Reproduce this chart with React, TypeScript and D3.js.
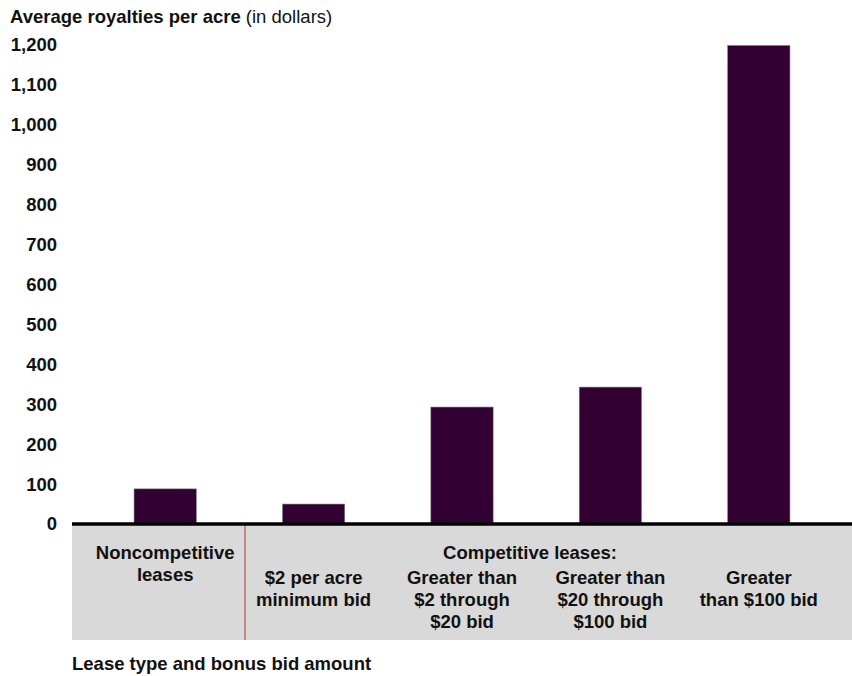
import React from "react";
import * as d3 from "d3";

const categories = ["noncomp", "min2", "gt2to20", "gt20to100", "gt100"];
const values = [88, 50, 293, 343, 1199];
const yTicks = [0, 100, 200, 300, 400, 500, 600, 700, 800, 900, 1000, 1100, 1200];
const categoryLabels: string[][] = [
  ["Noncompetitive", "leases"],
  ["$2 per acre", "minimum bid"],
  ["Greater than", "$2 through", "$20 bid"],
  ["Greater than", "$20 through", "$100 bid"],
  ["Greater", "than $100 bid"],
];
const groupLabel = "Competitive leases:";
const title = "Average royalties per acre";
const titleUnit = " (in dollars)";
const xTitle = "Lease type and bonus bid amount";

const W = 852;
const H = 676;
const FONT = "'Liberation Sans', Arial, sans-serif";
const FS = 18.5;

export default function App() {
  const y = d3.scaleLinear().domain([0, 1200]).range([524, 45]);
  const x = d3.scaleBand<string>().domain(categories).range([91, 833]).paddingInner(0.58).paddingOuter(0.29);
  const baseY = y(0);
  const boxTop = baseY + 1;
  const boxBottom = 640;
  const sepX = 245;
  const groupX = 530;
  return (
    <svg width={W} height={H} style={{ position: "absolute", left: 0, top: 0, display: "block", background: "#fff" }} fontFamily={FONT}>
      <text x={10} y={23} fontSize={FS} fill="#111">
        <tspan fontWeight="bold">{title}</tspan>
        <tspan>{titleUnit}</tspan>
      </text>
      {yTicks.map((t) => (
        <text key={t} x={57} y={y(t)} dy="0.35em" textAnchor="end" fontSize={FS} fontWeight="bold" fill="#111">
          {d3.format(",")(t)}
        </text>
      ))}
      <rect x={72} y={boxTop} width={W - 72} height={boxBottom - boxTop} fill="#d9d9d9" />
      <line x1={sepX} x2={sepX} y1={boxTop} y2={boxBottom} stroke="#c0283a" strokeWidth={1} />
      {categories.map((c, i) => (
        <rect
          key={c}
          x={x(c)}
          y={y(values[i])}
          width={x.bandwidth()}
          height={baseY - y(values[i])}
          fill="#330033"
          stroke="#888"
          strokeWidth={0.6}
        />
      ))}
      <line x1={72} x2={W} y1={baseY} y2={baseY} stroke="#000" strokeWidth={3.5} />
      {categories.map((c, i) => {
        const cx = (x(c) as number) + x.bandwidth() / 2;
        const startY = i === 0 ? 559 : 584;
        return (
          <text key={c} x={cx} y={startY} textAnchor="middle" fontSize={FS} fontWeight="bold" fill="#111">
            {categoryLabels[i].map((l, j) => (
              <tspan key={j} x={cx} dy={j === 0 ? 0 : 22}>
                {l}
              </tspan>
            ))}
          </text>
        );
      })}
      <text x={groupX} y={559} textAnchor="middle" fontSize={FS} fontWeight="bold" fill="#111">
        {groupLabel}
      </text>
      <text x={72} y={670} fontSize={FS} fontWeight="bold" fill="#111">
        {xTitle}
      </text>
    </svg>
  );
}
